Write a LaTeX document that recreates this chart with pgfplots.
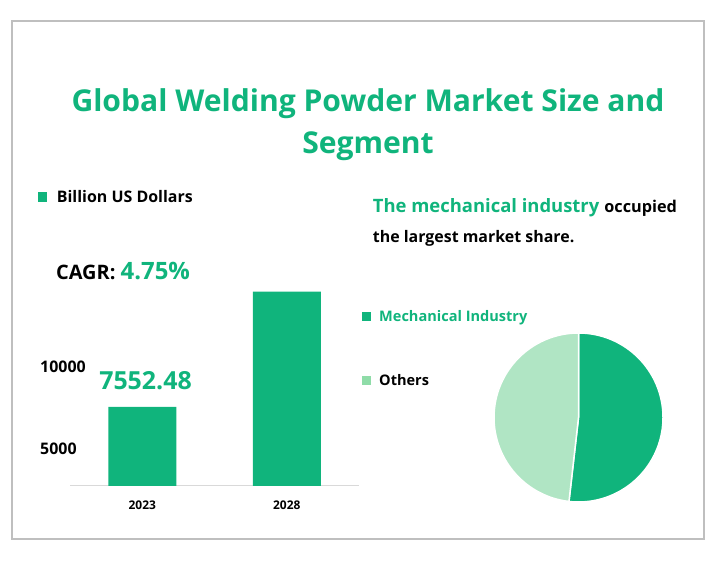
\documentclass[border=0pt]{standalone}
\usepackage{fontspec}
\setmainfont{Open Sans}
\usepackage{pgfplots}
\pgfplotsset{compat=1.18}
\usetikzlibrary{calc}
\definecolor{mgreen}{HTML}{10B47C}
\definecolor{lgreen}{HTML}{B0E5C4}
\definecolor{lgsq}{HTML}{8FDCA8}
\definecolor{frame}{HTML}{BFBFBF}
\definecolor{axgray}{HTML}{D9D9D9}
\newcommand{\fs}[1]{\fontsize{#1}{#1}\selectfont}
% market share of the mechanical industry, percent
\def\mechshare{51.8}
\begin{document}
\begin{tikzpicture}[x=1bp,y=1bp]
\path[use as bounding box] (0,0) rectangle (720,571);
\draw[frame,line width=1.5bp] (12,32) rectangle (704,550);

% title
\node[anchor=base,inner sep=0,text=mgreen] at (368,459.5) {\bfseries\fs{30.2}Global Welding Powder Market Size and};
\node[anchor=base,inner sep=0,text=mgreen] at (368,417.7) {\bfseries\fs{30.2}Segment};

% bar chart
\begin{axis}[
  at={(70bp,85bp)}, anchor=south west,
  scale only axis, width=289bp, height=218bp,
  xmin=-0.5, xmax=1.5, ymin=2750, ymax=16000,
  axis lines*=left,
  x axis line style={axgray, line width=1bp},
  y axis line style={draw=none},
  xtick={0,1}, xticklabels={2023,2028},
  extra x ticks={-0.5,0.5,1.5}, extra x tick labels={},
  extra x tick style={major tick length=4bp, tick style={axgray, line width=1bp}, tick align=outside},
  major x tick style={draw=none},
  ytick={5000,10000}, major y tick style={draw=none},
  scaled y ticks=false,
  /pgf/number format/assume math mode=true,
  /pgf/number format/1000 sep={},
  xticklabel style={font=\bfseries\fs{12}, yshift=-11bp},
  yticklabel style={font=\bfseries\fs{16}, anchor=west, inner sep=0, xshift=-30bp},
]
\addplot[ybar, bar width=68bp, fill=mgreen, draw=none] coordinates {(0,7552.48) (1,14570)};
\end{axis}

\fill[mgreen] (38,369.3) rectangle (46.5,379);
\node[anchor=base west,inner sep=0] at (56.7,368.3) {\bfseries\fs{16}Billion US Dollars};
\node[anchor=base west,inner sep=0] at (56,291) {\bfseries\fs{20}CAGR: \textcolor{mgreen}{\fs{24}4.75\%}};
\node[anchor=base,inner sep=0,text=mgreen] at (145.5,181) {\bfseries\fs{25}7552.48};

% right text
\node[anchor=base west,inner sep=0] at (372.7,358) {\bfseries\textcolor{mgreen}{\fs{18.5}The mechanical industry}\hspace{5bp}\fs{16.3}occupied};
\node[anchor=base west,inner sep=0] at (372.7,328) {\bfseries\fs{16}the largest market share.};

\fill[mgreen] (362,250) rectangle (371,259);
\node[anchor=base west,inner sep=0,text=mgreen] at (379,249) {\bfseries\fs{14.6}Mechanical Industry};
\fill[lgsq] (362,186) rectangle (371,195);
\node[anchor=base west,inner sep=0] at (379,185.3) {\bfseries\fs{14.6}Others};

% pie
\begin{axis}[
  at={(494bp,69bp)}, anchor=south west,
  scale only axis, width=169bp, height=169bp,
  xmin=-1, xmax=1, ymin=-1, ymax=1,
  hide axis, clip=false,
]
\pgfmathsetmacro{\endang}{90-3.6*\mechshare}
\draw[fill=mgreen, draw=white, line width=1.5bp]
  let \p1=($(axis cs:1,0)-(axis cs:0,0)$) in
  (axis cs:0,0) -- (axis cs:0,1) arc[start angle=90, end angle=\endang, radius=\x1] -- cycle;
\draw[fill=lgreen, draw=white, line width=1.5bp]
  let \p1=($(axis cs:1,0)-(axis cs:0,0)$) in
  (axis cs:0,0) -- (axis cs:0,1) arc[start angle=90, end angle=\endang+360, radius=\x1] -- cycle;
\end{axis}
\end{tikzpicture}
\end{document}
